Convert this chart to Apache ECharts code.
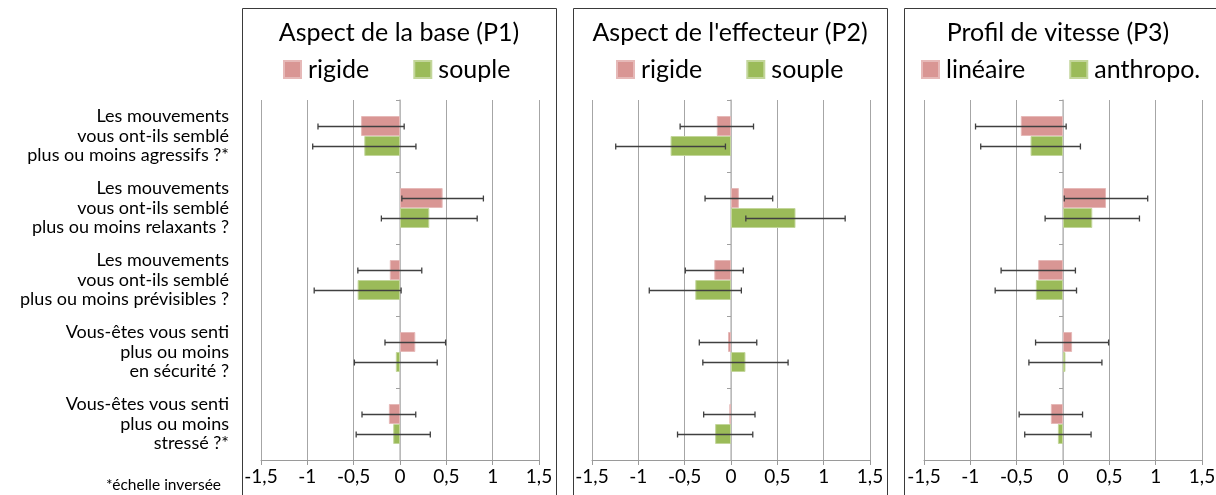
<!DOCTYPE html>
<html>
<head>
<meta charset="utf-8">
<script src="https://cdn.jsdelivr.net/npm/echarts@6/dist/echarts.min.js"></script>
<style>html,body{margin:0;padding:0;background:#fff;}#c{width:1216px;height:495px;}</style>
</head>
<body>
<div id="c"></div>
<script>
// ---- data ----
const categories = [
  "Les mouvements\nvous ont-ils semblé\nplus ou moins agressifs ?*",
  "Les mouvements\nvous ont-ils semblé\nplus ou moins relaxants ?",
  "Les mouvements\nvous ont-ils semblé\nplus ou moins prévisibles ?",
  "Vous-êtes vous senti\nplus ou moins\nen sécurité ?",
  "Vous-êtes vous senti\nplus ou moins\nstressé ?*"
];
const panelTitles = ["Aspect de la base (P1)", "Aspect de l'effecteur (P2)", "Profil de vitesse (P3)"];
const seriesNames = [["rigide", "souple"], ["rigide", "souple"], ["linéaire", "anthropo."]];
const xTicks = [-1.5, -1, -0.5, 0, 0.5, 1, 1.5];
const footnote = "*échelle inversée";

const p1RigideMean = [-0.42, 0.46, -0.11, 0.165, -0.12];
const p1RigideErr  = [0.465, 0.44, 0.345, 0.327, 0.29];
const p1SoupleMean = [-0.385, 0.316, -0.457, -0.045, -0.073];
const p1SoupleErr  = [0.557, 0.517, 0.469, 0.447, 0.40];

const p2RigideMean = [-0.153, 0.085, -0.18, -0.032, -0.018];
const p2RigideErr  = [0.396, 0.365, 0.313, 0.31, 0.277];
const p2SoupleMean = [-0.652, 0.696, -0.385, 0.156, -0.171];
const p2SoupleErr  = [0.592, 0.536, 0.497, 0.46, 0.406];

const p3LineaireMean = [-0.455, 0.464, -0.267, 0.098, -0.131];
const p3LineaireErr  = [0.489, 0.45, 0.401, 0.394, 0.342];
const p3AnthropoMean = [-0.35, 0.316, -0.293, 0.026, -0.055];
const p3AnthropoErr  = [0.538, 0.509, 0.439, 0.394, 0.358];

// ---- layout / style ----
const FONT = 'Lato';
const colA = '#D99694', colB = '#9BBB59';
const borderA = '#E6B9B8', borderB = '#C3D69B';
const BAR_W = 20;
const panels = [
  {means: [p1RigideMean, p1SoupleMean], errs: [p1RigideErr, p1SoupleErr], gridLeft: 261, frameX: 242, frameW: 314, titleX: 399, legendLeft: 283},
  {means: [p2RigideMean, p2SoupleMean], errs: [p2RigideErr, p2SoupleErr], gridLeft: 592, frameX: 573, frameW: 314, titleX: 730, legendLeft: 616},
  {means: [p3LineaireMean, p3AnthropoMean], errs: [p3LineaireErr, p3AnthropoErr], gridLeft: 924, frameX: 904, frameW: 340, titleX: 1058, legendLeft: 921}
];

const grids = [], xAxes = [], yAxes = [], series = [], legends = [], graphics = [];

panels.forEach((p, i) => {
  grids.push({left: p.gridLeft, top: 100, width: 278, height: 360, containLabel: false, outerBoundsMode: 'none'});
  xAxes.push({
    type: 'value', gridIndex: i, min: -1.5, max: 1.5, interval: 0.5,
    axisLine: {show: true, onZero: false, lineStyle: {color: '#9a9a9a', width: 1}},
    axisTick: {show: true, length: 5, lineStyle: {color: '#9a9a9a'}},
    splitLine: {show: true, lineStyle: {color: '#a6a6a6', width: 1}},
    axisLabel: {
      fontFamily: FONT, fontSize: 19, color: '#000', margin: 7,
      formatter: v => String(v).replace('.', ',')
    }
  });
  yAxes.push({
    type: 'category', gridIndex: i, inverse: true, data: categories,
    axisLine: {show: true, onZero: true, lineStyle: {color: '#c0c0c0', width: 1.5}},
    axisTick: {show: true, length: 4, lineStyle: {color: '#a0a0a0'}},
    splitLine: {show: false},
    axisLabel: i === 0 ? {
      show: true, fontFamily: FONT, fontSize: 18, lineHeight: 19.5, color: '#000',
      margin: 32, align: 'right'
    } : {show: false}
  });
  const cols = [colA, colB], borders = [borderA, borderB];
  [0, 1].forEach(k => {
    series.push({
      type: 'bar', name: seriesNames[i][k], xAxisIndex: i, yAxisIndex: i,
      data: p.means[k], barWidth: BAR_W, barGap: '0%',
      itemStyle: {color: cols[k], borderColor: borders[k], borderWidth: 1},
      emphasis: {disabled: true}, z: 2
    });
  });
  [0, 1].forEach(k => {
    const dir = k === 0 ? -1 : 1;
    const data = p.means[k].map((m, c) => [m - p.errs[k][c], m + p.errs[k][c], c]);
    series.push({
      type: 'custom', name: 'err' + i + k, xAxisIndex: i, yAxisIndex: i,
      encode: {x: [0, 1], y: 2}, data: data, z: 5, silent: true,
      renderItem: function (params, api) {
        const lo = api.coord([api.value(0), api.value(2)]);
        const hi = api.coord([api.value(1), api.value(2)]);
        const y = Math.round(lo[1] + dir * BAR_W / 2) + 0.5;
        const cap = 3;
        const st = {stroke: '#404040', lineWidth: 1.3};
        return {type: 'group', children: [
          {type: 'line', shape: {x1: lo[0], y1: y, x2: hi[0], y2: y}, style: st},
          {type: 'line', shape: {x1: lo[0], y1: y - cap, x2: lo[0], y2: y + cap}, style: st},
          {type: 'line', shape: {x1: hi[0], y1: y - cap, x2: hi[0], y2: y + cap}, style: st}
        ]};
      }
    });
  });
  legends.push({
    data: seriesNames[i].map(n => ({name: n, icon: 'rect'})),
    left: p.legendLeft, top: 57, padding: 0, itemWidth: 17, itemHeight: 17, itemGap: 44,
    selectedMode: false,
    textStyle: {fontFamily: FONT, fontSize: 25, color: '#000', padding: [0, 0, 0, 2]}
  });
  graphics.push({
    type: 'rect', silent: true, z: 0,
    shape: {x: p.frameX + 0.5, y: 8.5, width: p.frameW, height: 520},
    style: {fill: 'none', stroke: '#3a3a3a', lineWidth: 1}
  });
  graphics.push({
    type: 'text', silent: true, x: p.titleX, y: 20,
    style: {text: panelTitles[i], font: '25px ' + FONT, fill: '#000', align: 'center', verticalAlign: 'top'}
  });
});

graphics.push({
  type: 'text', silent: true, x: 221, y: 485,
  style: {text: footnote, font: '15.5px ' + FONT, fill: '#000', align: 'right', verticalAlign: 'middle'}
});

const chart = echarts.init(document.getElementById('c'), null, {renderer: 'canvas'});
chart.setOption({
  animation: false,
  backgroundColor: '#fff',
  grid: grids, xAxis: xAxes, yAxis: yAxes, series: series,
  legend: legends, graphic: graphics
});
</script>
</body>
</html>
